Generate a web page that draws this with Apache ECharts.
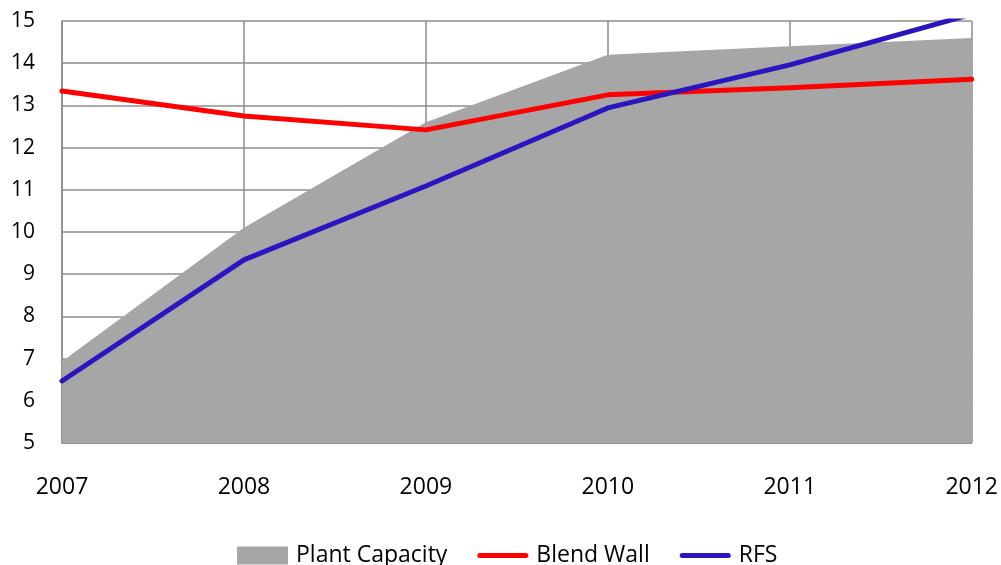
<!DOCTYPE html>
<html><head><meta charset="utf-8">
<script src="https://cdn.jsdelivr.net/npm/echarts@6/dist/echarts.min.js"></script>
<style>html,body{margin:0;padding:0;background:#fff}#c{width:1001px;height:565px}</style>
</head><body><div id="c"></div>
<script>
const years = ['2007','2008','2009','2010','2011','2012'];
const plantCapacity = [6.93, 10.1, 12.6, 14.2, 14.4, 14.6];
const blendWall = [13.34, 12.75, 12.42, 13.25, 13.42, 13.62];
const rfs = [6.47, 9.34, 11.09, 12.94, 13.96, 15.16];
const yTicks = {min: 5, max: 15, interval: 1};

const font = 'Open Sans, Noto Sans, sans-serif';
const lineIcon = 'path://M2.5,0 h46 a2.5,2.5 0 0 1 0,5 h-46 a2.5,2.5 0 0 1 0,-5z';
const chart = echarts.init(document.getElementById('c'));
chart.setOption({
  animation: false,
  grid: {left: 62, right: 27, top: 21, bottom: 122, containLabel: false},
  xAxis: {
    type: 'category', data: years, boundaryGap: false,
    axisLine: {show: true, lineStyle: {color: '#8c8c8c', width: 1.5}},
    axisTick: {show: false},
    axisLabel: {color: '#000', fontSize: 23, fontFamily: font, margin: 33},
    splitLine: {show: true, lineStyle: {color: '#8c8c8c', width: 1.5}}
  },
  yAxis: {
    type: 'value', min: yTicks.min, max: yTicks.max, interval: yTicks.interval,
    axisLine: {show: true, lineStyle: {color: '#8c8c8c', width: 1.5}},
    axisTick: {show: false},
    axisLabel: {color: '#000', fontSize: 21, fontFamily: font, margin: 27},
    splitLine: {show: true, lineStyle: {color: '#8c8c8c', width: 1.5}}
  },
  legend: {
    top: 544, left: 237, itemWidth: 51, itemHeight: 18, itemGap: 30, padding: 0,
    textStyle: {fontSize: 23, fontFamily: font, color: '#000', padding: [0, 0, 0, 3]},
    data: [
      {name: 'Plant Capacity', icon: 'rect'},
      {name: 'Blend Wall', icon: lineIcon},
      {name: 'RFS', icon: lineIcon}
    ]
  },
  series: [
    {name: 'Plant Capacity', type: 'line', data: plantCapacity, symbol: 'none',
     lineStyle: {width: 0, color: '#a6a6a6'}, itemStyle: {color: '#a6a6a6'},
     areaStyle: {color: '#a6a6a6', opacity: 1}, z: 1},
    {name: 'Blend Wall', type: 'line', data: blendWall, symbol: 'none',
     lineStyle: {width: 5, color: '#ff0000', cap: 'round'}, itemStyle: {color: '#ff0000'}, z: 3},
    {name: 'RFS', type: 'line', data: rfs, symbol: 'none', clip: true,
     lineStyle: {width: 5, color: '#2a16c0', cap: 'round'}, itemStyle: {color: '#2a16c0'}, z: 4}
  ]
});
</script></body></html>
